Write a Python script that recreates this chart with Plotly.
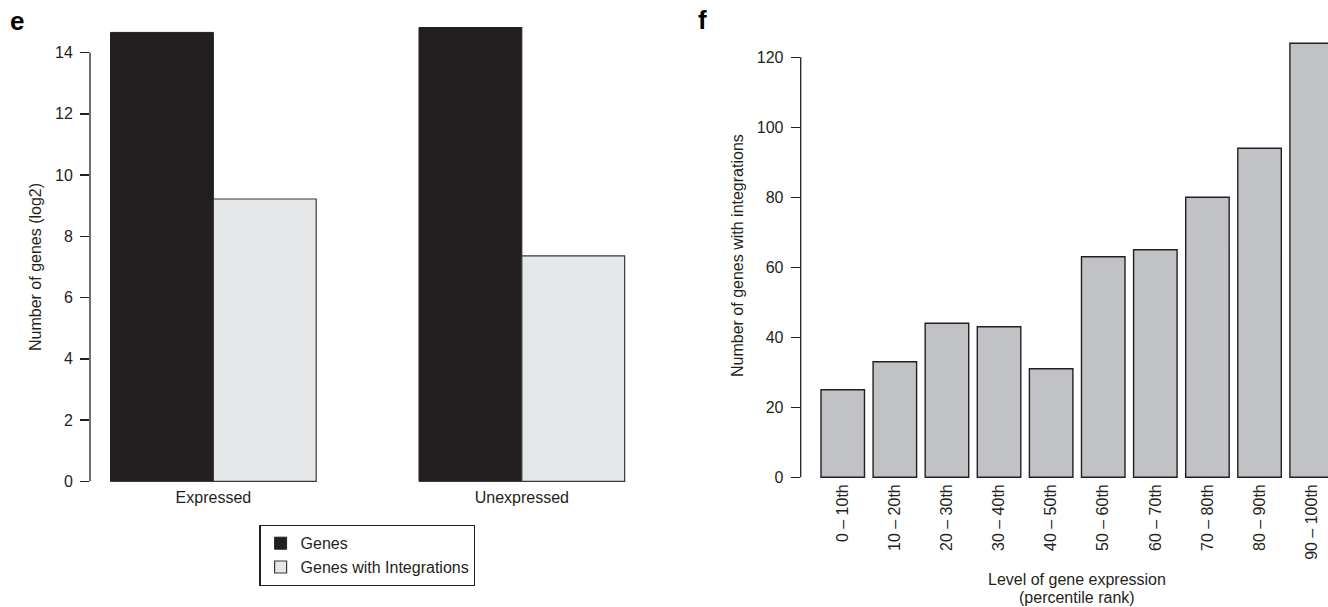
import plotly.graph_objects as go

# ---------------- data ----------------
groups_e = ["Expressed", "Unexpressed"]
genes_log2 = [14.66, 14.82]
genes_with_int_log2 = [9.22, 7.36]
yticks_e = [0, 2, 4, 6, 8, 10, 12, 14]

pct_labels = ["0 – 10th", "10 – 20th", "20 – 30th", "30 – 40th", "40 – 50th",
              "50 – 60th", "60 – 70th", "70 – 80th", "80 – 90th", "90 – 100th"]
genes_int_counts = [25, 33, 44, 43, 31, 63, 65, 80, 94, 124]
yticks_f = [0, 20, 40, 60, 80, 100, 120]

# ---------------- style ----------------
W, H = 1328, 607
INK = "#231F20"
FONT = "Liberation Sans, Arial, Helvetica, sans-serif"
FS = 16


def px(xp):
    return xp / W


def py(yp):
    return 1 - yp / H


fig = go.Figure()

# panel e
fig.add_trace(go.Bar(
    x=groups_e, y=genes_log2, name="Genes",
    marker=dict(color=INK, line=dict(color=INK, width=1)),
    width=1 / 3, offset=-1 / 3, xaxis="x", yaxis="y",
))
fig.add_trace(go.Bar(
    x=groups_e, y=genes_with_int_log2, name="Genes with Integrations",
    marker=dict(color="#E6E7E8", line=dict(color="#3A3839", width=1.2)),
    width=1 / 3, offset=0, xaxis="x", yaxis="y",
))

# panel f
fig.add_trace(go.Bar(
    x=pct_labels, y=genes_int_counts, showlegend=False,
    marker=dict(color="#C1C2C5", line=dict(color=INK, width=1.4)),
    width=0.835, xaxis="x2", yaxis="y2",
))

tickfont = dict(family=FONT, size=FS, color=INK)

fig.update_layout(
    template="none",
    width=W, height=H,
    margin=dict(l=0, r=0, t=0, b=0, pad=0),
    paper_bgcolor="white", plot_bgcolor="white",
    barmode="overlay",
    font=dict(family=FONT, size=FS, color=INK),
    xaxis=dict(
        domain=[px(90), px(645.2)], range=[-0.4, 1.4], type="category",
        showline=False, showgrid=False, zeroline=False, automargin=False,
        ticks="", ticklabelstandoff=2,
        tickfont=tickfont, anchor="y",
    ),
    yaxis=dict(
        domain=[py(484.4), py(9.75)], range=[-0.1, 15.4],
        tickvals=yticks_e, ticktext=[str(v) for v in yticks_e],
        showline=False, showgrid=False, zeroline=False, automargin=False,
        ticks="outside", ticklen=9, tickwidth=1.3, tickcolor=INK,
        tickfont=tickfont, anchor="x", ticklabelstandoff=4,
    ),
    xaxis2=dict(
        domain=[px(800.7), 1.0], range=[-0.807, 9.314], type="category",
        showline=False, showgrid=False, zeroline=False, automargin=False,
        ticks="", ticklabelstandoff=1,
        tickangle=-90, tickfont=tickfont, anchor="y2",
    ),
    yaxis2=dict(
        domain=[py(479.05), py(25.8)], range=[-0.5, 129],
        tickvals=yticks_f, ticktext=[str(v) for v in yticks_f],
        showline=False, showgrid=False, zeroline=False, automargin=False,
        ticks="outside", ticklen=9, tickwidth=1.3, tickcolor=INK,
        tickfont=tickfont, anchor="x2", ticklabelstandoff=4,
    ),
    legend=dict(
        x=px(259.3), y=py(525), xanchor="left", yanchor="top",
        bordercolor=INK, borderwidth=1.3, bgcolor="white",
        font=dict(family=FONT, size=FS, color=INK),
        traceorder="normal",
    ),
    showlegend=True,
)

# R-style axis lines spanning only the tick range
fig.add_shape(type="line", xref="paper", yref="y",
              x0=px(90), x1=px(90), y0=yticks_e[0], y1=yticks_e[-1],
              line=dict(color=INK, width=1.3))
fig.add_shape(type="line", xref="paper", yref="y2",
              x0=px(800.7), x1=px(800.7), y0=yticks_f[0], y1=yticks_f[-1],
              line=dict(color=INK, width=1.3))

# titles and panel letters
ann = [
    dict(text="Number of genes (log2)", x=px(35), y=py(267), textangle=-90),
    dict(text="Number of genes with integrations", x=px(737), y=py(256), textangle=-90),
    dict(text="Level of gene expression", x=px(1077), y=py(579)),
    dict(text="(percentile rank)", x=px(1077), y=py(597)),
    dict(text="<b>e</b>", x=px(17), y=py(21), font=dict(size=26, family=FONT, color="black")),
    dict(text="<b>f</b>", x=px(702), y=py(20), font=dict(size=26, family=FONT, color="black")),
]
for a in ann:
    a.setdefault("font", dict(family=FONT, size=FS, color=INK))
    fig.add_annotation(xref="paper", yref="paper", showarrow=False,
                       xanchor="center", yanchor="middle", **a)

fig.write_html(
    "out.html",
    config={"displayModeBar": False, "staticPlot": True},
    post_script="document.body.style.margin='0';document.body.style.overflow='hidden';",
)
